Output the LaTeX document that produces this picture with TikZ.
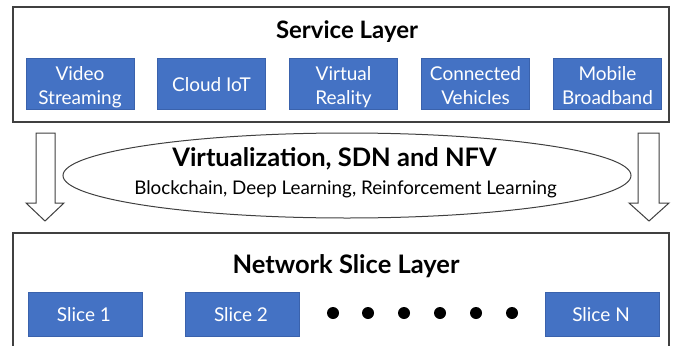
\documentclass[tikz,border=0pt]{standalone}
\usepackage{fontspec}
\setmainfont{Lato}
\usetikzlibrary{shapes.geometric}
\definecolor{boxblue}{HTML}{4472C4}
\definecolor{boxedge}{HTML}{3A62AC}
\definecolor{frame}{HTML}{404040}
\tikzset{
  layer/.style={draw=frame, line width=1.3pt, fill=white},
  svc/.style={draw=boxedge, line width=0.8pt, fill=boxblue, minimum width=108pt, minimum height=51pt, inner sep=0pt},
  svctext/.style={text=white, font=\fontsize{19}{23}\selectfont, inner sep=0pt, anchor=base},
  slicebox/.style={draw=boxedge, line width=0.8pt, fill=boxblue, minimum width=114pt, minimum height=44pt, inner sep=0pt},
  slicetext/.style={text=white, font=\fontsize{19}{23}\selectfont, inner sep=0pt, anchor=base},
  title/.style={font=\bfseries\fontsize{25.5}{29}\selectfont, inner sep=0pt, anchor=base},
  bigarrow/.style={draw=frame, line width=1pt, fill=white},
  dotmark/.style={circle, fill=black, minimum size=12pt, inner sep=0pt}
}
\begin{document}
\begin{tikzpicture}[x=1pt,y=-1pt]
\useasboundingbox (0,0) rectangle (676,345);
\begin{scope}
\clip (0,0) rectangle (676,345);
% service layer
\draw[layer] (13,7) rectangle (669,122);
\node[title, font=\bfseries\fontsize{24}{28}\selectfont] (svctitle) at (347,39) {Service Layer};
\node[svc] (video) at (80,83.5) {};
\node[svc] (iot) at (211.5,83.5) {};
\node[svc] (vr) at (343.5,83.5) {};
\node[svc] (cv) at (475.5,83.5) {};
\node[svc] (mb) at (607.5,83.5) {};
\node[svctext] (videoa) at (80,80) {Video};
\node[svctext] (videob) at (80,104) {Streaming};
\node[svctext] (iota) at (211.5,91.5) {Cloud IoT};
\node[svctext] (vra) at (343.5,80) {Virtual};
\node[svctext] (vrb) at (343.5,104) {Reality};
\node[svctext] (cva) at (475.5,80) {Connected};
\node[svctext] (cvb) at (475.5,104) {Vehicles};
\node[svctext] (mba) at (607.5,80) {Mobile};
\node[svctext] (mbb) at (607.5,104) {Broadband};
% arrows
\draw[bigarrow] (36,133) -- (55,133) -- (55,203) -- (64,203) -- (45,221) -- (26,203) -- (36,203) -- cycle;
\draw[bigarrow] (638,133) -- (659,133) -- (659,203) -- (669,203) -- (649,221) -- (629,203) -- (638,203) -- cycle;
% ellipse
\node[ellipse, draw=frame, line width=1pt, minimum width=568pt, minimum height=85pt, inner sep=0pt] (virt) at (347,175.5) {};
\node[title] (virttitle) at (334.5,166.7) {Virtualization, SDN and NFV};
\node[font=\fontsize{18.8}{22}\selectfont, inner sep=0pt, anchor=base] (virtsub) at (345.5,194) {Blockchain, Deep Learning, Reinforcement Learning};
% network slice layer
\draw[layer] (13,233) rectangle (669,360);
\node[title] (nsltitle) at (346,273) {Network Slice Layer};
\node[slicebox] (s1) at (85,314) {};
\node[slicebox] (s2) at (242,314) {};
\node[slicebox] (sn) at (602,314) {};
\node[slicetext] (s1t) at (84,321.3) {Slice 1};
\node[slicetext] (s2t) at (241,321.3) {Slice 2};
\node[slicetext] (snt) at (601,321.3) {Slice N};
\foreach \i/\xx in {1/333,2/368,3/404,4/440,5/476,6/512}
  \node[dotmark] (d\i) at (\xx,313) {};
\end{scope}
\end{tikzpicture}
\end{document}
